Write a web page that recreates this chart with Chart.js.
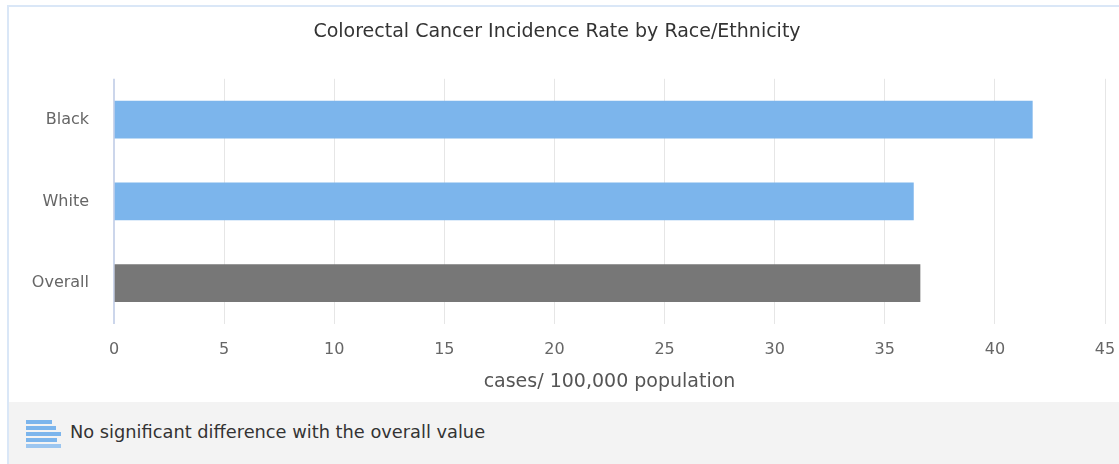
<!DOCTYPE html>
<html>
<head>
<meta charset="utf-8">
<script src="https://cdn.jsdelivr.net/npm/chart.js@4"></script>
<style>
  body { margin: 0; background: #fff; overflow: hidden; font-family: "DejaVu Sans", sans-serif; }
  #box {
    position: absolute; left: 7px; top: 5px; width: 1130px; height: 470px;
    border: 2px solid #dae7f7; box-sizing: border-box; background: #fff;
  }
  #chartWrap { position: absolute; left: 0; top: 0; width: 1111px; height: 395px; }
  #legendStrip {
    position: absolute; left: 0; top: 395px; width: 100%; height: 80px;
    background: #f3f3f3;
  }
  .icon { position: absolute; left: 17px; top: 18px; width: 36px; height: 28px; }
  .icon div { position: absolute; left: 0; height: 4px; background: #7cb5ec; }
  #legendText { position: absolute; left: 61px; top: 19px; font-size: 17.8px; color: #333; }
</style>
</head>
<body>
<div id="box">
  <div id="chartWrap"><canvas id="myChart"></canvas></div>
  <div id="legendStrip">
    <div class="icon">
      <div style="top:0;width:26px"></div>
      <div style="top:6px;width:30px"></div>
      <div style="top:12px;width:35px"></div>
      <div style="top:18px;width:31px"></div>
      <div style="top:24px;width:35px;background:#9cc6f0"></div>
    </div>
    <div id="legendText">No significant difference with the overall value</div>
  </div>
</div>
<script>
// Chart data
const categories = ["Black", "White", "Overall"];
const rates = [41.7, 36.3, 36.6];
const barColors = ["#7cb5ec", "#7cb5ec", "#777777"];
const xTicks = [0, 5, 10, 15, 20, 25, 30, 35, 40, 45];

const fontFamily = "'DejaVu Sans', sans-serif";

const config = {
    type: "bar",
    data: {
        labels: categories,
        datasets: [{
            data: rates,
            backgroundColor: barColors,
            barThickness: 37,
        }]
    },
    options: {
        indexAxis: "y",
        responsive: true,
        maintainAspectRatio: false,
        animation: false,
        layout: { padding: { right: 15 } },
        plugins: {
            legend: { display: false },
            tooltip: { enabled: false },
            title: {
                display: true,
                text: "Colorectal Cancer Incidence Rate by Race/Ethnicity",
                color: "#333333",
                font: { family: fontFamily, size: 19, weight: "normal" },
                padding: { top: 14, bottom: 35 }
            }
        },
        scales: {
            x: {
                min: 0,
                max: 45,
                afterBuildTicks: (axis) => {
                    axis.ticks = xTicks.map(v => ({ value: v }));
                },
                grid: {
                    color: (ctx) => ctx.tick && ctx.tick.value === 0 ? "#ccd6eb" : "#e6e6e6",
                    lineWidth: (ctx) => ctx.tick && ctx.tick.value === 0 ? 2 : 1,
                    drawTicks: false
                },
                border: { display: false },
                ticks: {
                    color: "#666666",
                    padding: 16,
                    font: { family: fontFamily, size: 16 }
                },
                title: {
                    display: true,
                    text: "cases/ 100,000 population",
                    color: "#555555",
                    font: { family: fontFamily, size: 19 },
                    padding: { top: 4, bottom: 9 }
                },
                afterFit: (axis) => {
                    axis.height = 78;
                    axis.paddingLeft = 0;
                    axis.paddingRight = 0;
                }
            },
            y: {
                grid: { display: false },
                border: { display: false },
                ticks: {
                    color: "#666666",
                    padding: 17,
                    font: { family: fontFamily, size: 16 }
                },
                afterFit: (axis) => { axis.width = 105; }
            }
        }
    }
};

const myChart = new Chart(document.getElementById("myChart"), config);
</script>
</body>
</html>
